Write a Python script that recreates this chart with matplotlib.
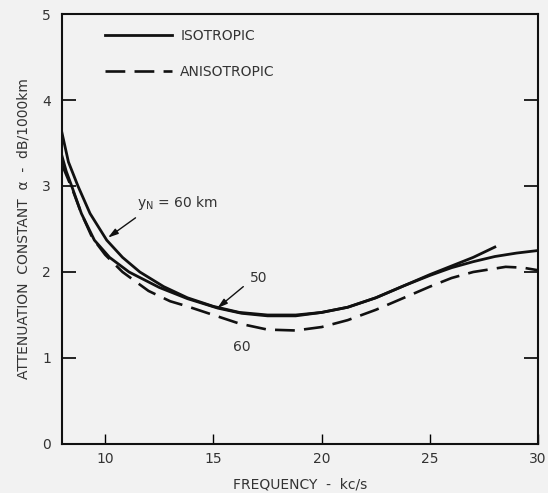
import matplotlib.pyplot as plt

# frequency (kc/s) and attenuation (dB/1000km)
f_iso60 = [8.0, 8.3, 8.74, 9.3, 10.07, 10.8, 11.6, 12.7, 13.8, 15.0, 16.2, 17.5, 18.8, 20.0, 21.2, 22.5, 23.8, 25.0, 26.0, 27.0, 28.0, 29.0, 30.0]
a_iso60 = [3.62, 3.28, 3.0, 2.68, 2.37, 2.17, 2.0, 1.83, 1.70, 1.60, 1.53, 1.50, 1.50, 1.53, 1.59, 1.70, 1.84, 1.96, 2.05, 2.12, 2.18, 2.22, 2.25]

f_iso50 = [8.0, 8.2, 8.45, 8.9, 9.5, 10.2, 11.1, 12.5, 13.8, 15.2, 16.3, 17.5, 18.8, 20.0, 21.2, 22.5, 23.8, 25.0, 26.0, 27.0, 28.0]
a_iso50 = [3.35, 3.17, 3.0, 2.68, 2.37, 2.17, 2.0, 1.82, 1.69, 1.58, 1.52, 1.49, 1.49, 1.53, 1.59, 1.70, 1.84, 1.97, 2.07, 2.17, 2.29]

f_aniso = [8.0, 8.25, 8.5, 8.9, 9.4, 10.0, 10.8, 12.0, 13.0, 13.8, 15.0, 16.2, 17.5, 18.8, 20.0, 21.2, 22.5, 23.8, 25.0, 26.0, 27.0, 28.5, 29.3, 30.0]
a_aniso = [3.25, 3.1, 2.95, 2.68, 2.4, 2.2, 2.0, 1.78, 1.66, 1.6, 1.50, 1.40, 1.33, 1.32, 1.36, 1.44, 1.56, 1.70, 1.83, 1.93, 2.0, 2.06, 2.05, 2.02]

x_ticks = [10, 15, 20, 25, 30]
y_ticks = [0, 1, 2, 3, 4, 5]

bg = "#f2f2f2"
ink = "#111111"
txt = "#333333"

plt.rcParams["font.family"] = ["DejaVu Sans"]
fig = plt.figure(figsize=(5.48, 4.93), dpi=100, facecolor=bg)
ax = fig.add_axes([0.113, 0.0994, 0.869, 0.8722], facecolor=bg)

ax.plot(f_iso60, a_iso60, color=ink, lw=2.0, label="ISOTROPIC")
ax.plot(f_iso50, a_iso50, color=ink, lw=2.0)
ax.plot(f_aniso, a_aniso, color=ink, lw=1.9, dashes=(7.5, 3.5), label="ANISOTROPIC")

ax.set_xlim(8, 30)
ax.set_ylim(0, 5)
ax.set_xticks(x_ticks)
ax.set_yticks(y_ticks)
ax.tick_params(axis="y", direction="in", length=10, width=1.2, pad=8,
               labelsize=10, labelcolor=txt, right=True)
ax.tick_params(axis="x", direction="in", length=7, width=1.0, pad=6,
               labelsize=10, labelcolor=txt)
for s in ax.spines.values():
    s.set_linewidth(1.5)
    s.set_color(ink)

ax.set_xlabel("FREQUENCY  -  kc/s", fontsize=10, color=txt, labelpad=8)
ax.set_ylabel("ATTENUATION  CONSTANT  α  -  dB/1000km", fontsize=10,
              color=txt, labelpad=8)

leg = ax.legend(loc="upper left", bbox_to_anchor=(0.065, 0.995), frameon=False,
                handlelength=4.8, labelspacing=1.6, handletextpad=0.6,
                fontsize=10)
for t in leg.get_texts():
    t.set_color(txt)

arrow = dict(arrowstyle="-|>,head_length=0.6,head_width=0.18",
             color=ink, lw=1.0, shrinkA=0, shrinkB=0)
ax.annotate("", xy=(10.13, 2.40), xytext=(11.4, 2.63), arrowprops=arrow)
ax.text(11.45, 2.80, r"$\mathregular{y_N}$ = 60 km", fontsize=10, color=txt,
        ha="left", va="center")
ax.annotate("", xy=(15.18, 1.58), xytext=(16.38, 1.83), arrowprops=arrow)
ax.text(17.07, 1.93, "50", fontsize=10, color=txt, ha="center", va="center")
ax.text(16.33, 1.13, "60", fontsize=10, color=txt, ha="center", va="center")

fig.savefig("out.png", dpi=100, facecolor=bg)
